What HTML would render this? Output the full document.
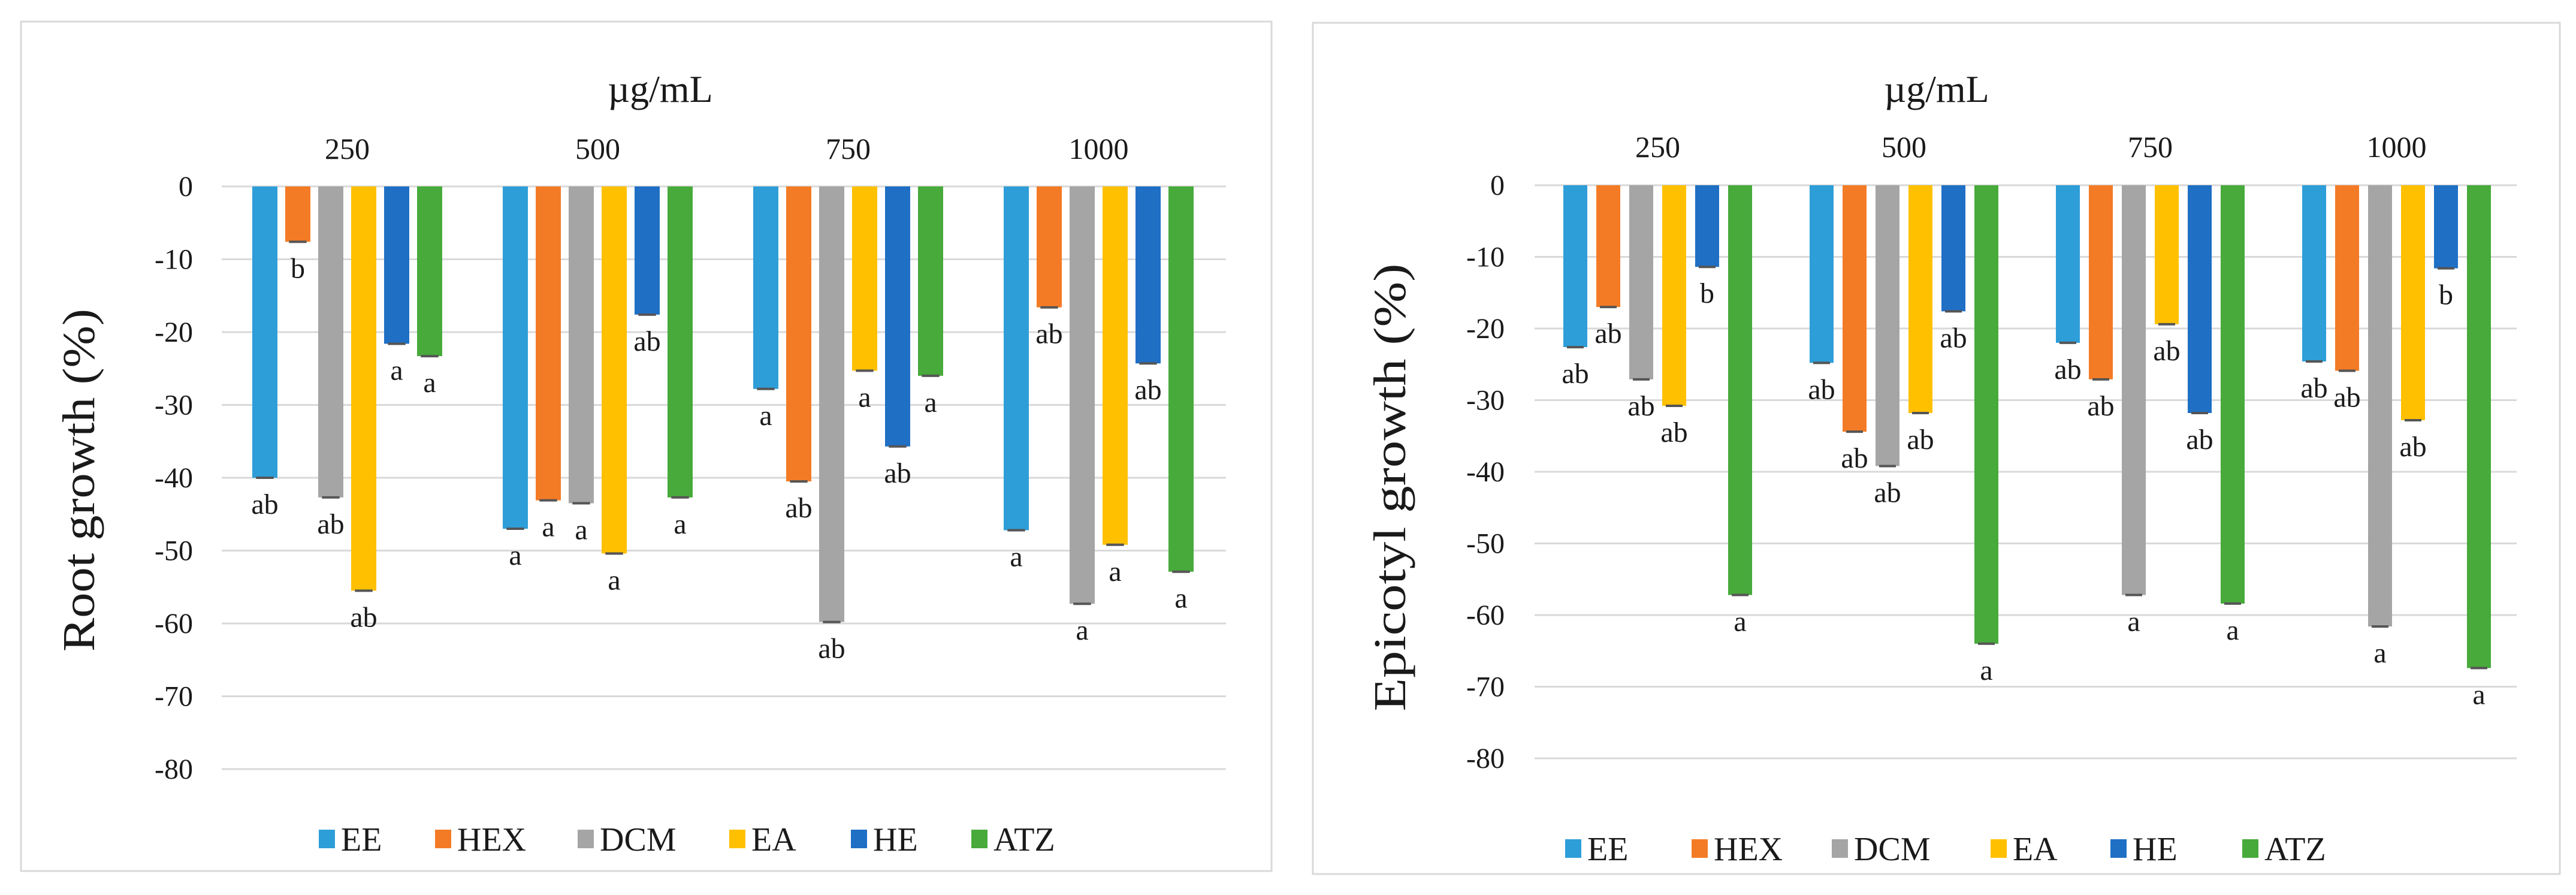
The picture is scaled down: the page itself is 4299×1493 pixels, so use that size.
<!DOCTYPE html>
<html><head><meta charset="utf-8">
<style>
html,body{margin:0;padding:0;background:#fff;}
svg{display:block;}
svg text{font-family:"Liberation Serif","Times New Roman",serif;fill:#1a1a1a;}
</style></head>
<body>
<svg id="fig" width="4299" height="1493" viewBox="0 0 4299 1493" xmlns="http://www.w3.org/2000/svg" font-family="Liberation Serif, serif">
<rect width="4299" height="1493" fill="#fff"/>
</svg>
<script>
const categories = ["250","500","750","1000"];
const seriesNames = ["EE","HEX","DCM","EA","HE","ATZ"];
const seriesColors = ["#2e9ed8","#f47b25","#a5a5a5","#ffc000","#1f6fc5","#47aa3b"];
const yTicks = [0,-10,-20,-30,-40,-50,-60,-70,-80];
// Root growth values per series (across categories 250,500,750,1000)
const rootEE  = [-40.0,-47.0,-27.8,-47.2];
const rootHEX = [-7.6,-43.1,-40.5,-16.6];
const rootDCM = [-42.7,-43.5,-59.8,-57.3];
const rootEA  = [-55.5,-50.4,-25.3,-49.2];
const rootHE  = [-21.6,-17.6,-35.7,-24.3];
const rootATZ = [-23.3,-42.7,-26.0,-52.9];
const rootLetters = [["ab","b","ab","ab","a","a"],["a","a","a","a","ab","a"],["a","ab","ab","a","ab","a"],["a","ab","a","a","ab","a"]];
// Epicotyl growth values
const epiEE  = [-22.6,-24.8,-22.0,-24.6];
const epiHEX = [-17.0,-34.4,-27.1,-25.9];
const epiDCM = [-27.1,-39.2,-57.2,-61.6];
const epiEA  = [-30.8,-31.8,-19.4,-32.8];
const epiHE  = [-11.4,-17.6,-31.8,-11.6];
const epiATZ = [-57.2,-64.0,-58.4,-67.4];
const epiLetters = [["ab","ab","ab","ab","b","a"],["ab","ab","ab","ab","ab","a"],["ab","ab","a","ab","ab","a"],["ab","ab","a","ab","b","a"]];

const NS="http://www.w3.org/2000/svg";
const svg=document.getElementById('fig');
function mk(tag,attrs,parent){const e=document.createElementNS(NS,tag);for(const k in attrs)e.setAttribute(k,attrs[k]);(parent||svg).appendChild(e);return e;}

function drawChart(cfg){
  const g=mk('g',{});
  
  
  const fr=mk('rect',{x:cfg.fx,y:cfg.fy,width:cfg.fw,height:cfg.fh,fill:'#fff',stroke:'#d9d9d9','stroke-width':3},g);
  
  
  const yScale=v=>cfg.zeroY - v*cfg.unit;
  const xCenter=(ci,si)=>cfg.firstX + ci*cfg.groupPitch + si*cfg.barPitch;
  yTicks.forEach(t=>{
    const y=yScale(t);
    const l=mk('line',{x1:cfg.gx1,x2:cfg.gx2,y1:y,y2:y,stroke:'#d9d9d9','stroke-width':3},g);
    
    
    const tx=mk('text',{x:cfg.tickX,y:y+16,'font-size':48,'text-anchor':'end'},g);
    tx.textContent=String(t);
    
    
  });
  const ti=mk('text',{x:cfg.titleX,y:cfg.titleY,'font-size':64,'text-anchor':'middle'},g);
  ti.textContent='µg/mL';
  
  
  const yt=mk('text',{x:0,y:0,'font-size':76,'text-anchor':'middle',transform:`translate(${cfg.ytX},${cfg.ytY}) rotate(-90)`,textLength:cfg.ytLen,lengthAdjust:'spacingAndGlyphs'},g);
  yt.textContent=cfg.ytitle;
  
  
  categories.forEach((c,ci)=>{
    const cx=xCenter(ci,2.5);
    const ct=mk('text',{x:cx,y:cfg.catY,'font-size':50,'text-anchor':'middle'},g);
    ct.textContent=c;
    
    
    cfg.series.forEach((arr,si)=>{
      const v=arr[ci];
      const x=xCenter(ci,si);
      const y0=yScale(0), y1=yScale(v);
      const b=mk('rect',{x:x-cfg.barW/2,y:Math.min(y0,y1),width:cfg.barW,height:Math.abs(y1-y0),fill:seriesColors[si]},g);
      
      
      const eb=mk('line',{x1:x-cfg.barW*0.35,x2:x+cfg.barW*0.35,y1:y1,y2:y1,stroke:'#555','stroke-width':4},g);
      
      
      const lt=mk('text',{x:x,y:y1+60,'font-size':48,'text-anchor':'middle'},g);
      lt.textContent=cfg.letters[ci][si];
      
      
    });
  });
  seriesNames.forEach((n,si)=>{
    const lx=cfg.legX[si];
    const m=mk('rect',{x:lx,y:cfg.legY-16,width:27,height:31,fill:seriesColors[si]},g);
    
    
    const lt=mk('text',{x:lx+37,y:cfg.legY+19,'font-size':56},g);
    lt.textContent=n;
    
    
  });
}

drawChart({name:'root-growth-chart',fx:35,fy:36,fw:2087,fh:1417,zeroY:311,unit:12.15,
  gx1:370,gx2:2046,tickX:322,firstX:442,groupPitch:418,barPitch:55,barW:42,
  titleX:1102,titleY:170,catY:265,ytX:157,ytY:801,ytLen:572,ytitle:'Root growth (%)',
  series:[rootEE,rootHEX,rootDCM,rootEA,rootHE,rootATZ],letters:rootLetters,
  legY:1400,legX:[532,726,964,1217,1420,1621]});
drawChart({name:'epicotyl-growth-chart',fx:2191,fy:38,fw:2081,fh:1420,zeroY:309,unit:11.95,
  gx1:2561,gx2:4200,tickX:2511,firstX:2629,groupPitch:411,barPitch:55,barW:40,
  titleX:3232,titleY:170,catY:262,ytX:2345,ytY:813,ytLen:747,ytitle:'Epicotyl growth (%)',
  series:[epiEE,epiHEX,epiDCM,epiEA,epiHE,epiATZ],letters:epiLetters,
  legY:1416,legX:[2612,2823,3057,3322,3522,3742]});
</script>
</body></html>
